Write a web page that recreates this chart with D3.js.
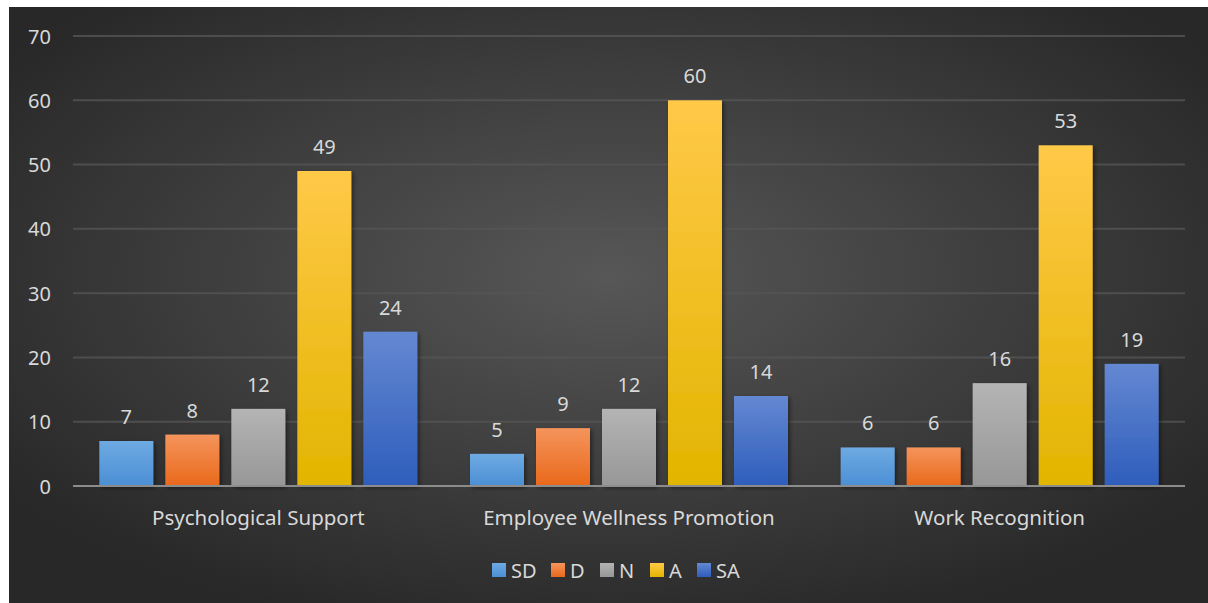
<!DOCTYPE html>
<html><head><meta charset="utf-8">
<script src="https://cdn.jsdelivr.net/npm/d3@7"></script>
<style>html,body{margin:0;padding:0;background:#fff;}svg{display:block;}</style>
</head><body>
<svg id="c" width="1208" height="603"></svg>
<script>
const categories = ["Psychological Support", "Employee Wellness Promotion", "Work Recognition"];
const seriesNames = ["SD", "D", "N", "A", "SA"];
const SD = [7, 5, 6];
const D  = [8, 9, 6];
const N  = [12, 12, 16];
const A  = [49, 60, 53];
const SA = [24, 14, 19];
const yTicks = [0, 10, 20, 30, 40, 50, 60, 70];
const seriesValues = [SD, D, N, A, SA];
const colors = [["#6eaae2","#4b8fd5"],["#f5945c","#e9691b"],["#b4b4b4","#979797"],["#ffc948","#e2b500"],["#6488d2","#2e5dbb"]];

const svg = d3.select("#c");
const W = 1208, H = 603;
const font = "'Noto Sans', sans-serif";
const txt = "#d9d9d9";
const defs = svg.append("defs");
const bg = defs.append("radialGradient").attr("id","bg").attr("cx","50%").attr("cy","45%").attr("r","62%");
bg.append("stop").attr("offset","0%").attr("stop-color","#575757");
bg.append("stop").attr("offset","100%").attr("stop-color","#282828");
colors.forEach((c,i)=>{
  const g = defs.append("linearGradient").attr("id","g"+i).attr("x1",0).attr("y1",0).attr("x2",0).attr("y2",1);
  g.append("stop").attr("offset","0%").attr("stop-color",c[0]);
  g.append("stop").attr("offset","100%").attr("stop-color",c[1]);
});
const sh = defs.append("filter").attr("id","sh").attr("x","-20%").attr("y","-10%").attr("width","150%").attr("height","130%");
sh.append("feDropShadow").attr("dx",2).attr("dy",2).attr("stdDeviation",2).attr("flood-color","#000").attr("flood-opacity",0.45);

svg.append("rect").attr("x",9).attr("y",7).attr("width",W-9).attr("height",H-7).attr("fill","url(#bg)");

const x0 = 73, x1 = 1185;
const y = d3.scaleLinear().domain([0,70]).range([486,36]);
const xb = d3.scaleBand().domain(categories).range([x0,x1]);
const barW = 54, step = 66;

// gridlines
svg.append("g").selectAll("line").data(yTicks.filter(t=>t>0)).join("line")
  .attr("x1",x0).attr("x2",x1).attr("y1",d=>y(d)).attr("y2",d=>y(d))
  .attr("stroke","#555").attr("stroke-width",2).attr("stroke-opacity",0.8);

// y labels
const yAxis = d3.axisLeft(y).tickValues(yTicks).tickSize(0).tickPadding(0);
const ya = svg.append("g").attr("transform","translate(51,0)").call(yAxis);
ya.select(".domain").remove();
ya.selectAll("text").attr("fill",txt).attr("font-family",font).attr("font-size",20).attr("dy","0.35em");

// bars
const bars = svg.append("g");
categories.forEach((cat,ci)=>{
  const c = xb(cat) + xb.bandwidth()/2;
  seriesValues.forEach((vals,si)=>{
    const bx = c - 2*step - barW/2 + si*step;
    const v = vals[ci];
    bars.append("rect").attr("x",bx).attr("y",y(v)).attr("width",barW).attr("height",y(0)-y(v))
      .attr("fill","url(#g"+si+")").attr("filter","url(#sh)");
    bars.append("text").attr("x",bx+barW/2).attr("y",y(v)-17).attr("text-anchor","middle")
      .attr("fill",txt).attr("font-family",font).attr("font-size",20).text(v);
  });
});

// zero axis
svg.append("line").attr("x1",x0).attr("x2",x1).attr("y1",y(0)).attr("y2",y(0))
  .attr("stroke","#8c8c8c").attr("stroke-width",2);

// x labels
const xAxis = d3.axisBottom(xb).tickSize(0).tickPadding(0);
const xa = svg.append("g").attr("transform","translate(0,525)").call(xAxis);
xa.select(".domain").remove();
xa.selectAll("text").attr("fill",txt).attr("font-family",font).attr("font-size",20.5).attr("dy",0);

// legend
const legX = [492, 551, 600, 650, 697];
const leg = svg.append("g");
seriesNames.forEach((s,i)=>{
  leg.append("rect").attr("x",legX[i]).attr("y",563).attr("width",14).attr("height",14).attr("fill","url(#g"+i+")");
  leg.append("text").attr("x",legX[i]+19).attr("y",578).attr("fill",txt).attr("font-family",font).attr("font-size",20).text(s);
});
</script>
</body></html>
